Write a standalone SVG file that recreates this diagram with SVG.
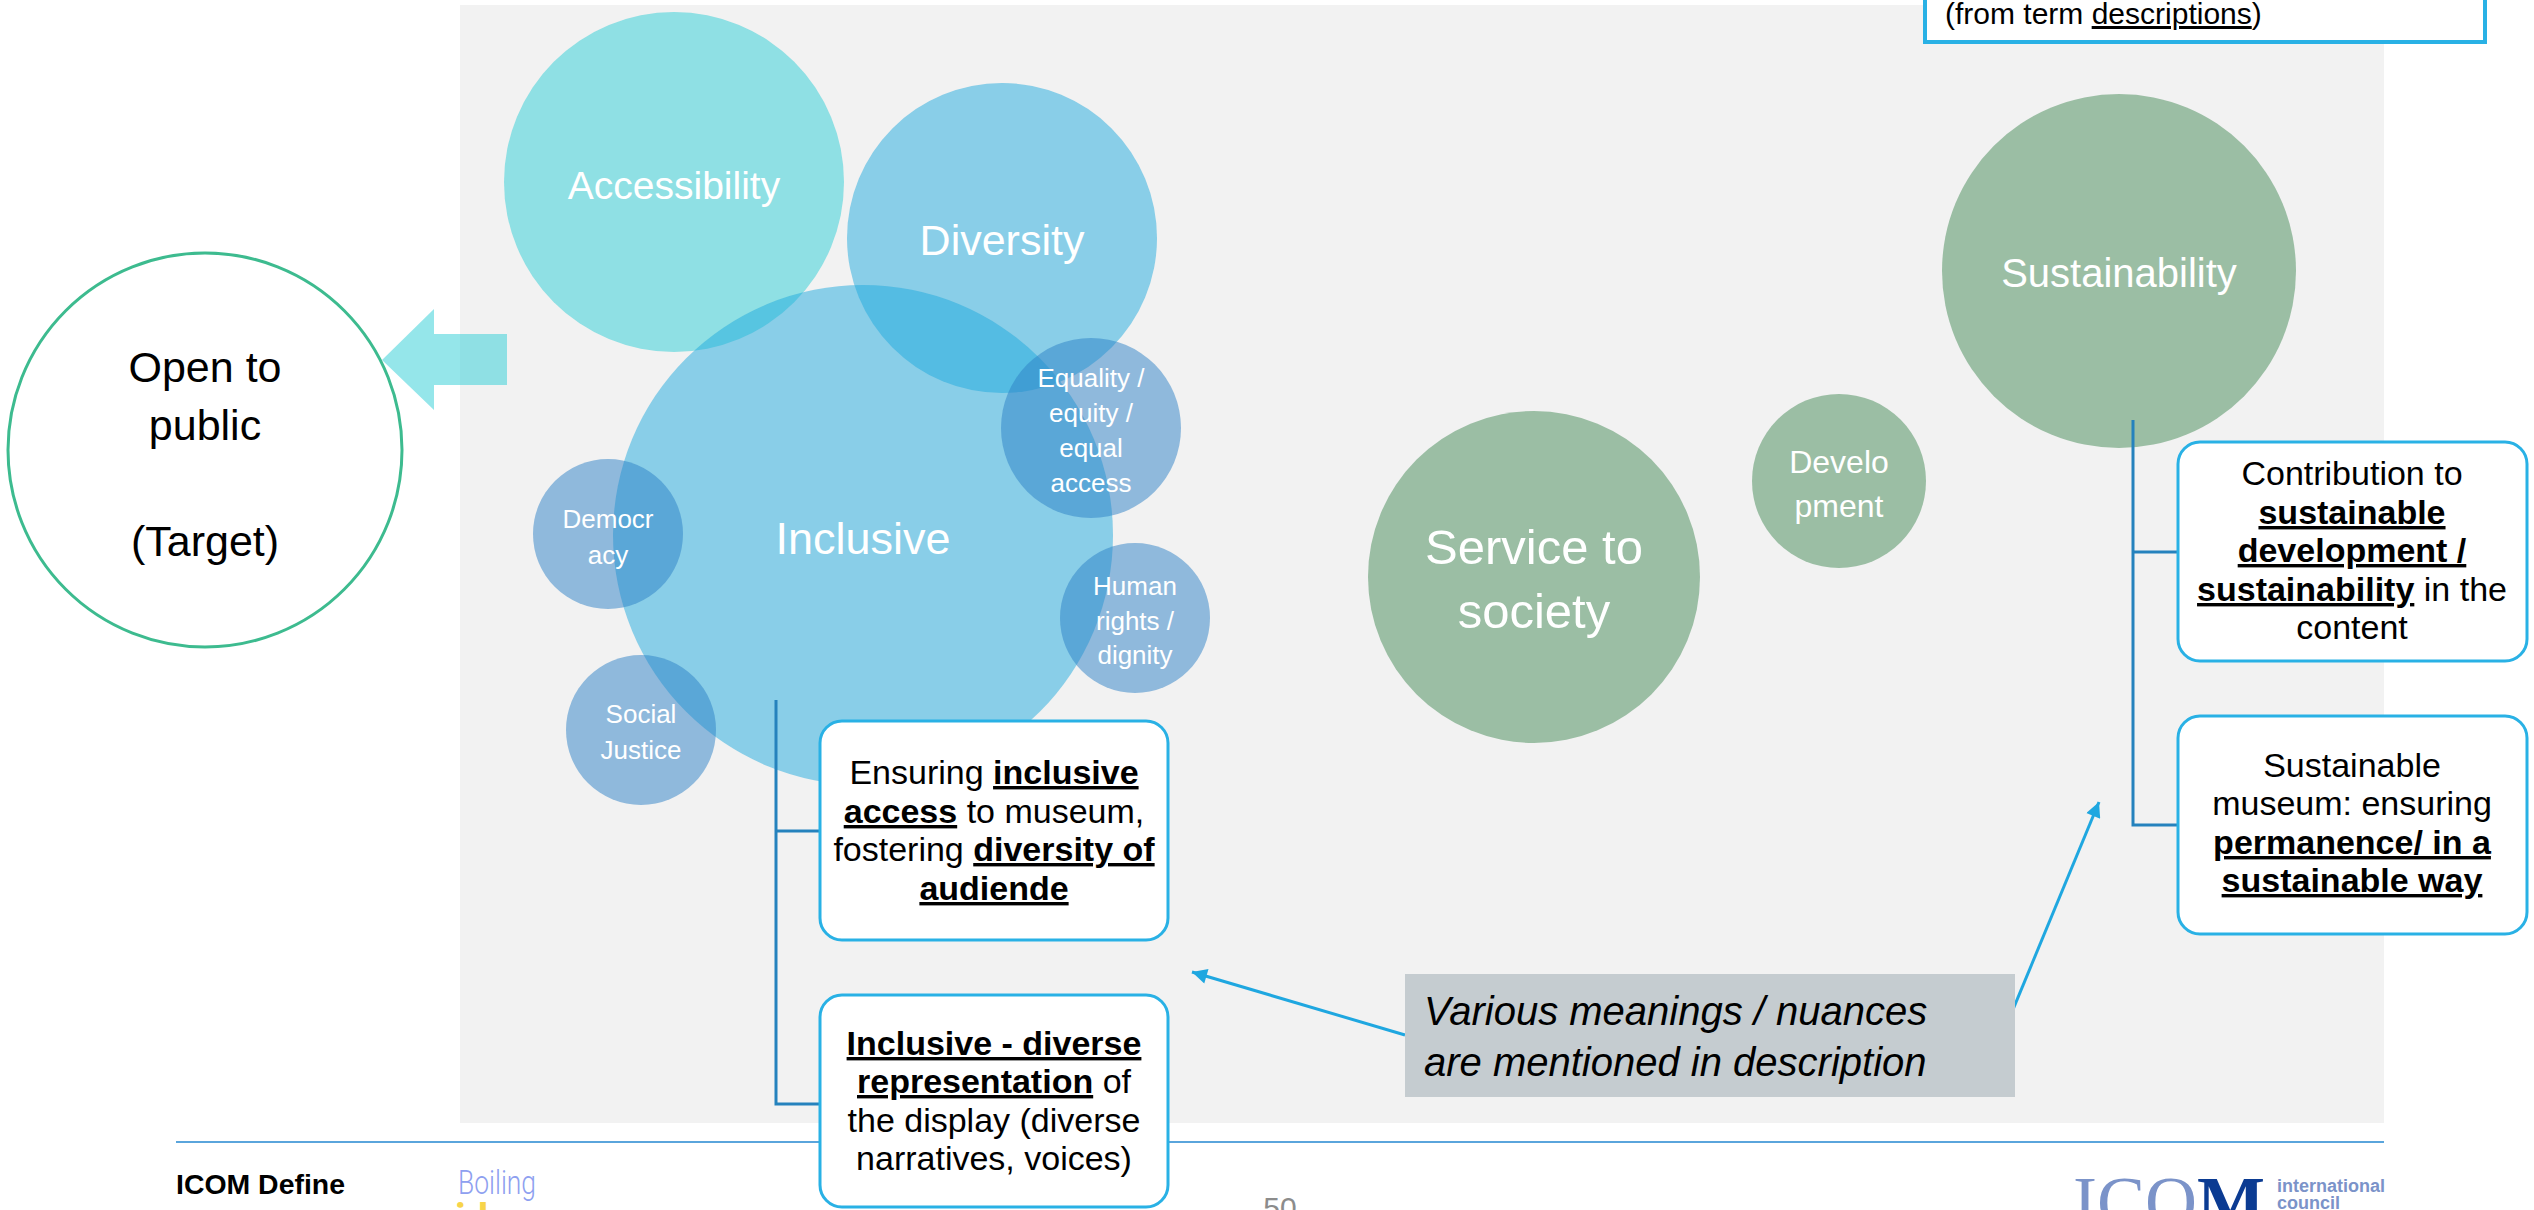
<svg xmlns="http://www.w3.org/2000/svg" width="2534" height="1210" viewBox="0 0 2534 1210">
<defs>
<style>
text { font-family: "Liberation Sans", Arial, sans-serif; }
.w { fill: #ffffff; text-anchor: middle; }
.bx { fill: #000000; font-size: 34px; text-anchor: middle; }
.u { font-weight: bold; text-decoration: underline; }
.box { fill: #ffffff; stroke: #29b1e5; stroke-width: 3; }
.tree { fill: none; stroke: #2582bd; stroke-width: 3; }
.blue { fill: #20a9dd; fill-opacity: 0.5; }
.teal { fill: #2ccdd6; fill-opacity: 0.5; }
.steel { fill: #2c80c6; fill-opacity: 0.5; }
.green { fill: #9bbea4; }
.call { fill: none; stroke: #1fa7e0; stroke-width: 3; }
.serif { font-family: "Liberation Serif", "Times New Roman", serif; }
.thin { font-family: Roboto, "Liberation Sans", sans-serif; }
</style>
<marker id="ah" viewBox="0 0 10 10" refX="10" refY="5" markerWidth="20" markerHeight="15" markerUnits="userSpaceOnUse" orient="auto">
<path d="M0,0 L10,5 L0,10 z" fill="#1fa7e0"/>
</marker>
</defs>
<rect width="2534" height="1210" fill="#ffffff"/>
<rect id="panel" x="460" y="5" width="1924" height="1118" fill="#f2f2f2"/>
<line x1="176" y1="1142" x2="2384" y2="1142" stroke="#5aa5dc" stroke-width="2"/>

<g id="target">
<circle cx="205" cy="450" r="197" fill="#ffffff" stroke="#3dbb8f" stroke-width="3"/>
<text x="205" y="382" font-size="43" text-anchor="middle">Open to</text>
<text x="205" y="440" font-size="43" text-anchor="middle">public</text>
<text x="205" y="556" font-size="43" text-anchor="middle">(Target)</text>
</g>

<g id="arrow-to-target">
<polygon class="teal" points="382,360 434,309 434,334 507,334 507,385 434,385 434,410"/>
</g>

<g id="accessibility">
<circle class="teal" cx="674" cy="182" r="170"/>
<text class="w" x="674" y="199" font-size="39">Accessibility</text>
</g>

<g id="diversity">
<circle class="blue" cx="1002" cy="238" r="155"/>
<text class="w" x="1002" y="255" font-size="43">Diversity</text>
</g>

<g id="inclusive">
<circle class="blue" cx="863" cy="535" r="250"/>
<text class="w" x="863" y="554" font-size="45">Inclusive</text>
</g>

<g id="equality">
<circle class="steel" cx="1091" cy="428" r="90"/>
<text class="w" font-size="26"><tspan x="1091" y="387">Equality /</tspan><tspan x="1091" y="422">equity /</tspan><tspan x="1091" y="457">equal</tspan><tspan x="1091" y="492">access</tspan></text>
</g>

<g id="democracy">
<circle class="steel" cx="608" cy="534" r="75"/>
<text class="w" font-size="26"><tspan x="608" y="528">Democr</tspan><tspan x="608" y="564">acy</tspan></text>
</g>

<g id="human-rights">
<circle class="steel" cx="1135" cy="618" r="75"/>
<text class="w" font-size="26"><tspan x="1135" y="595">Human</tspan><tspan x="1135" y="630">rights /</tspan><tspan x="1135" y="664">dignity</tspan></text>
</g>

<g id="social-justice">
<circle class="steel" cx="641" cy="730" r="75"/>
<text class="w" font-size="26"><tspan x="641" y="723">Social</tspan><tspan x="641" y="759">Justice</tspan></text>
</g>

<g id="service">
<circle class="green" cx="1534" cy="577" r="166"/>
<text class="w" font-size="49"><tspan x="1534" y="564">Service to</tspan><tspan x="1534" y="628">society</tspan></text>
</g>

<g id="development">
<circle class="green" cx="1839" cy="481" r="87"/>
<text class="w" font-size="32"><tspan x="1839" y="473">Develo</tspan><tspan x="1839" y="517">pment</tspan></text>
</g>

<g id="sustainability">
<circle class="green" cx="2119" cy="271" r="177"/>
<text class="w" x="2119" y="287" font-size="40">Sustainability</text>
</g>

<g id="connectors">
<polyline class="tree" points="776,700 776,1104 820,1104"/>
<line class="tree" x1="776" y1="831" x2="820" y2="831"/>
<polyline class="tree" points="2133,420 2133,825 2178,825"/>
<line class="tree" x1="2133" y1="552" x2="2178" y2="552"/>
<line class="call" x1="1405" y1="1035" x2="1192" y2="972" marker-end="url(#ah)"/>
<line class="call" x1="2002" y1="1036" x2="2099" y2="802" marker-end="url(#ah)"/>
</g>

<g id="box-inclusive-access">
<rect class="box" x="820" y="721" width="348" height="219" rx="22"/>
<text class="bx"><tspan x="994" y="784">Ensuring <tspan class="u">inclusive</tspan></tspan><tspan x="994" y="823"><tspan class="u">access</tspan> to museum,</tspan><tspan x="994" y="861">fostering <tspan class="u">diversity of</tspan></tspan><tspan x="994" y="900" class="u">audiende</tspan></text>
</g>

<g id="box-inclusive-representation">
<rect class="box" x="820" y="995" width="348" height="212" rx="22"/>
<text class="bx"><tspan x="994" y="1055" class="u">Inclusive - diverse</tspan><tspan x="994" y="1093"><tspan class="u">representation</tspan> of</tspan><tspan x="994" y="1132">the display (diverse</tspan><tspan x="994" y="1170">narratives, voices)</tspan></text>
</g>

<g id="box-sustainable-development">
<rect class="box" x="2178" y="442" width="349" height="219" rx="22"/>
<text class="bx"><tspan x="2352" y="485">Contribution to</tspan><tspan x="2352" y="524" class="u">sustainable</tspan><tspan x="2352" y="562" class="u">development /</tspan><tspan x="2352" y="601"><tspan class="u">sustainability</tspan> in the</tspan><tspan x="2352" y="639">content</tspan></text>
</g>

<g id="box-sustainable-museum">
<rect class="box" x="2178" y="716" width="349" height="218" rx="22"/>
<text class="bx"><tspan x="2352" y="777">Sustainable</tspan><tspan x="2352" y="815">museum: ensuring</tspan><tspan x="2352" y="854" class="u">permanence/ in a</tspan><tspan x="2352" y="892" class="u">sustainable way</tspan></text>
</g>

<g id="callout">
<rect x="1405" y="974" width="610" height="123" fill="#c5ccd0"/>
<text font-size="40" font-style="italic" fill="#000"><tspan x="1424" y="1025">Various meanings / nuances</tspan><tspan x="1424" y="1076">are mentioned in description</tspan></text>
</g>

<g id="legend-box">
<rect x="1925" y="-40" width="560" height="82" fill="#ffffff" stroke="#29b1e5" stroke-width="4"/>
<text x="1945" y="24" font-size="30" fill="#000">(from term <tspan text-decoration="underline">descriptions</tspan>)</text>
</g>

<g id="footer">
<text x="176" y="1194" font-size="27" font-weight="bold" fill="#000" textLength="169" lengthAdjust="spacingAndGlyphs">ICOM Define</text>
<text class="thin" x="458" y="1194" font-size="34" fill="#8ea0f0" font-weight="300" textLength="78" lengthAdjust="spacingAndGlyphs">Boiling</text>
<text class="thin" x="455" y="1232" font-size="40" fill="#f7d44a" font-weight="bold">ideas</text>
<text x="1280" y="1218" font-size="30" fill="#8c8c8c" text-anchor="middle">50</text>
<text class="serif" x="2073" y="1226" font-size="72"><tspan fill="#7b93c9">ICO</tspan><tspan fill="#0b3b92" font-weight="bold">M</tspan></text>
<text x="2277" y="1192" font-size="18" font-weight="bold" fill="#7b93c9">international</text>
<text x="2277" y="1209" font-size="18" font-weight="bold" fill="#7b93c9">council</text>
</g>
</svg>
